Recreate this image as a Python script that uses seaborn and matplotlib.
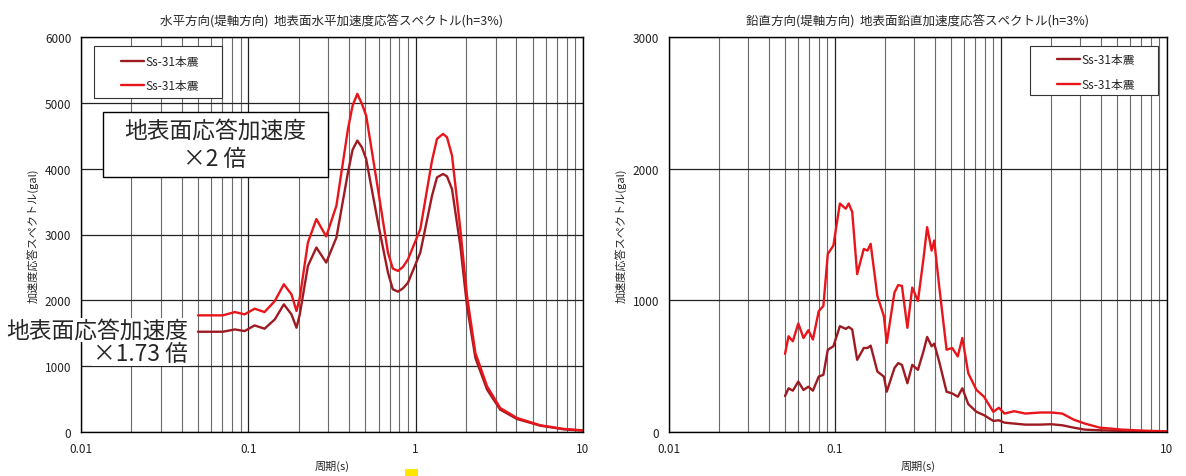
import numpy as np
import pandas as pd
import seaborn as sns
import matplotlib
matplotlib.use('Agg')
import matplotlib.pyplot as plt
from matplotlib.ticker import LogLocator, FixedLocator, FuncFormatter
from matplotlib.patches import Rectangle

# 水平方向 (左図) 周期[s] と 応答加速度[gal]
period_h = [0.05, 0.0705, 0.083, 0.095, 0.109, 0.125, 0.144, 0.163, 0.181, 0.194,
            0.203, 0.227, 0.255, 0.292, 0.336, 0.394, 0.42, 0.448, 0.477, 0.506,
            0.595, 0.683, 0.73, 0.784, 0.84, 0.90, 1.066, 1.252, 1.341, 1.457,
            1.539, 1.649, 1.849, 2.027, 2.274, 2.67, 3.2, 4.03, 5.56, 7.68, 10.0]
h_x2 = [1772, 1772, 1822, 1787, 1873, 1822, 1990, 2244, 2091, 1838,
        2041, 2878, 3234, 2970, 3437, 4604, 4960, 5137, 4985, 4807,
        3690, 2726, 2482, 2447, 2508, 2624, 3081, 4122, 4452, 4528,
        4477, 4198, 3081, 2066, 1203, 695, 365, 213, 102, 46, 25]
h_x173 = [1523, 1523, 1558, 1533, 1619, 1569, 1711, 1939, 1787, 1584,
          1787, 2523, 2802, 2574, 2954, 3944, 4289, 4426, 4325, 4147,
          3183, 2421, 2168, 2132, 2183, 2269, 2726, 3589, 3868, 3919,
          3883, 3690, 2827, 1914, 1127, 645, 340, 198, 96, 41, 20]

# 鉛直方向 (右図)
period_v = [0.050, 0.0525, 0.0557, 0.0601, 0.0646, 0.0691, 0.0736, 0.0798, 0.0851, 0.0905,
            0.0978, 0.107, 0.116, 0.121, 0.127, 0.136, 0.149, 0.157, 0.164, 0.180,
            0.197, 0.205, 0.228, 0.240, 0.253, 0.273, 0.292, 0.316, 0.341, 0.359,
            0.382, 0.396, 0.424, 0.470, 0.508, 0.549, 0.585, 0.635, 0.712, 0.790,
            0.899, 0.971, 1.05, 1.20, 1.40, 1.72, 2.01, 2.34, 2.74, 3.20,
            3.94, 5.37, 7.33, 10.0]
v_x2 = [594, 727, 689, 824, 714, 773, 702, 918, 957, 1352,
        1416, 1735, 1696, 1735, 1671, 1199, 1390, 1378, 1429, 1033,
        880, 676, 1059, 1115, 1110, 791, 1097, 995, 1314, 1556,
        1378, 1454, 1110, 625, 638, 574, 714, 446, 319, 268,
        153, 184, 140, 158, 140, 148, 148, 140, 94, 64,
        33, 18, 10, 5]
v_x173 = [273, 332, 314, 383, 319, 344, 314, 421, 434, 625,
          651, 804, 783, 798, 778, 548, 638, 638, 656, 459,
          421, 306, 485, 523, 510, 370, 510, 472, 612, 722,
          651, 671, 536, 306, 293, 268, 332, 212, 153, 128,
          84, 89, 71, 64, 56, 56, 59, 51, 33, 18,
          13, 8, 5, 3]

series_label = 'Ss-31本震'
titles = ['水平方向(堤軸方向)  地表面水平加速度応答スペクトル(h=3%)',
          '鉛直方向(堤軸方向)  地表面鉛直加速度応答スペクトル(h=3%)']
ylabel = '加速度応答スペクトル(gal)'
xlabel = '周期(s)'
xticks = [0.01, 0.1, 1, 10]

dark_red = '#9e1b22'
bright_red = '#e8151b'

sns.set_style('white')
plt.rcParams['font.family'] = ['Noto Sans CJK JP', 'DejaVu Sans']

fig = plt.figure(figsize=(11.86, 4.77), dpi=100)
W, H = 1186, 477
ax1 = fig.add_axes([81 / W, (H - 433) / H, 502 / W, 395 / H])
ax2 = fig.add_axes([669 / W, (H - 433) / H, 498 / W, 395 / H])


def setup(ax, ymax, title):
    ax.set_xscale('log')
    ax.set_xlim(0.01, 10)
    ax.set_ylim(0, ymax)
    ax.set_yticks(np.arange(0, ymax + 1, 1000))
    ax.xaxis.set_major_locator(FixedLocator(xticks))
    ax.xaxis.set_minor_locator(LogLocator(base=10, subs=range(2, 10)))
    ax.xaxis.set_major_formatter(FuncFormatter(lambda v, p: '{:g}'.format(v)))
    ax.grid(which='major', color='#222222', lw=0.9)
    ax.grid(which='minor', axis='x', color='#6a6a6a', lw=0.8)
    ax.tick_params(which='both', length=0, labelsize=8.5, colors='#222222', pad=7)
    for s in ax.spines.values():
        s.set_color('black')
        s.set_linewidth(1.0)
    ax.set_title(title, fontsize=9, pad=10)
    ax.set_xlabel(xlabel, fontsize=8, labelpad=4)
    ax.set_ylabel(ylabel, fontsize=8, labelpad=4)


sns.lineplot(x=period_h, y=h_x173, ax=ax1, color=dark_red, lw=1.7, label=series_label)
sns.lineplot(x=period_h, y=h_x2, ax=ax1, color=bright_red, lw=1.7, label=series_label)
sns.lineplot(x=period_v, y=v_x173, ax=ax2, color=dark_red, lw=1.7, label=series_label)
sns.lineplot(x=period_v, y=v_x2, ax=ax2, color=bright_red, lw=1.7, label=series_label)

setup(ax1, 6000, titles[0])
setup(ax2, 3000, titles[1])

# 凡例 (枠は別に描く)
leg_kw = dict(fontsize=8.5, frameon=False, handlelength=1.9, handletextpad=0.1,
              labelspacing=0.95, borderpad=0, borderaxespad=0)
for ax, (x0, y0, w, h) in [(ax1, ((94 - 81) / 502, (433 - 99) / 395, 128 / 502, 52 / 395)),
                           (ax2, ((1030 - 669) / 498, (433 - 96) / 395, 128 / 498, 49 / 395))]:
    ax.add_patch(Rectangle((x0, y0), w, h, transform=ax.transAxes, facecolor='white',
                           edgecolor='#333333', lw=0.8, zorder=4))
    leg = ax.legend(loc='center', bbox_to_anchor=(x0 + w / 2 + 0.004, y0 + h / 2 - 0.004), **leg_kw)
    leg.set_zorder(5)

# 注記 (×2 倍)
ax1.add_patch(Rectangle((22 / 502, (433 - 178) / 395), 225 / 502, 65 / 395,
                        transform=ax1.transAxes, facecolor='white',
                        edgecolor='black', lw=1.0, zorder=5))
ax1.text(0.267, (433 - 131) / 395, '地表面応答加速度', transform=ax1.transAxes,
         ha='center', va='center', fontsize=16.4, zorder=6)
ax1.text(0.267, (433 - 160) / 395, '×2 倍', transform=ax1.transAxes,
         ha='center', va='center', fontsize=16.4, zorder=6)

# 注記 (×1.73 倍)
fig.text(188 / W, (H - 331) / H, '地表面応答加速度', ha='right', va='center', fontsize=16.4,
         bbox=dict(facecolor='white', edgecolor='none', pad=0.5))
fig.text(188 / W, (H - 355) / H, '×1.73 倍', ha='right', va='center', fontsize=16.4,
         bbox=dict(facecolor='white', edgecolor='none', pad=0.5))

fig.patches.append(Rectangle((405 / W, 0), 13 / W, 7 / H, transform=fig.transFigure,
                             facecolor='#ffe600', edgecolor='none'))

fig.savefig('out.png', dpi=100)
